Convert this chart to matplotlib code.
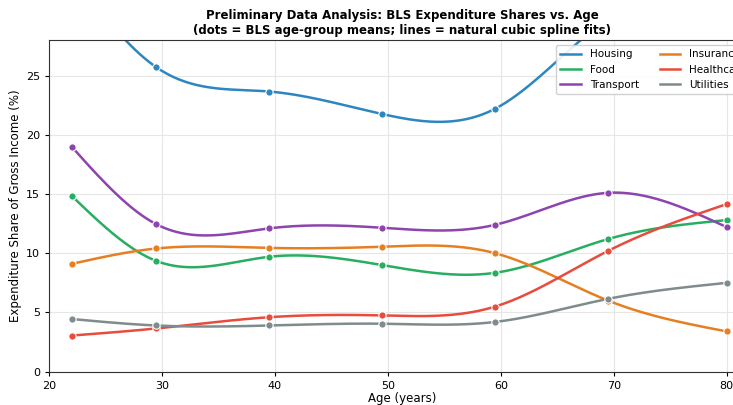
import numpy as np
import matplotlib.pyplot as plt

# BLS age-group midpoints
ages = [22, 29.5, 39.5, 49.5, 59.5, 69.5, 80]

# expenditure shares (% of gross income)
housing = [33.5, 25.7, 23.65, 21.75, 22.2, 29.8, 33.0]
food = [14.85, 9.35, 9.7, 9.0, 8.35, 11.2, 12.8]
transport = [19.0, 12.45, 12.1, 12.15, 12.4, 15.1, 12.2]
insurance = [9.1, 10.4, 10.45, 10.55, 10.0, 6.0, 3.4]
healthcare = [3.05, 3.65, 4.6, 4.75, 5.5, 10.2, 14.15]
utilities = [4.45, 3.9, 3.9, 4.05, 4.2, 6.15, 7.5]

series = {
    "Housing": (housing, "#2e86c1"),
    "Food": (food, "#27ae60"),
    "Transport": (transport, "#8e44ad"),
    "Insurance": (insurance, "#e67e22"),
    "Healthcare": (healthcare, "#e74c3c"),
    "Utilities": (utilities, "#7f8c8d"),
}


def natural_spline(x, y, xs):
    # natural cubic spline: second derivative zero at both ends
    x = np.asarray(x, float)
    y = np.asarray(y, float)
    n = len(x)
    h = np.diff(x)
    A = np.zeros((n, n))
    b = np.zeros(n)
    A[0, 0] = 1
    A[-1, -1] = 1
    for i in range(1, n - 1):
        A[i, i - 1] = h[i - 1]
        A[i, i] = 2 * (h[i - 1] + h[i])
        A[i, i + 1] = h[i]
        b[i] = 6 * ((y[i + 1] - y[i]) / h[i] - (y[i] - y[i - 1]) / h[i - 1])
    M = np.linalg.solve(A, b)
    idx = np.clip(np.searchsorted(x, xs) - 1, 0, n - 2)
    x0, x1 = x[idx], x[idx + 1]
    hh = x1 - x0
    t0 = x1 - xs
    t1 = xs - x0
    return (M[idx] * t0**3 / (6 * hh) + M[idx + 1] * t1**3 / (6 * hh)
            + (y[idx] / hh - M[idx] * hh / 6) * t0
            + (y[idx + 1] / hh - M[idx + 1] * hh / 6) * t1)


fig = plt.figure(figsize=(7.33, 4.05), dpi=100)
# axes run a little past the right edge of the picture (as in the original crop)
ax = fig.add_axes([49 / 733, 33.3 / 405, 706 / 733, 331.7 / 405])

xs = np.linspace(ages[0], ages[-1], 300)
for name, (vals, col) in series.items():
    ax.plot(xs, natural_spline(ages, vals, xs), color=col, lw=1.8, label=name, zorder=2)
    ax.scatter(ages, vals, color=col, s=28, edgecolor="white", linewidth=0.8, zorder=3)

ax.set_xlim(20, 82.5)
ax.set_ylim(0, 28)
ax.set_xticks(range(20, 81, 10))
ax.set_yticks(range(0, 26, 5))
ax.grid(True, color="#e6e6e6", lw=0.8)
ax.set_axisbelow(True)
for s in ax.spines.values():
    s.set_color("#333333")
ax.tick_params(labelsize=8, length=3)
ax.set_xlabel("Age (years)", fontsize=8.5, labelpad=1)
ax.set_ylabel("Expenditure Share of Gross Income (%)", fontsize=8.5, labelpad=3)
ax.set_title("Preliminary Data Analysis: BLS Expenditure Shares vs. Age\n"
             "(dots = BLS age-group means; lines = natural cubic spline fits)",
             fontsize=8.5, fontweight="bold", pad=4)
ax.legend(loc="upper right", ncol=2, fontsize=7.5, framealpha=0.9)

fig.savefig("out.png", dpi=100)
